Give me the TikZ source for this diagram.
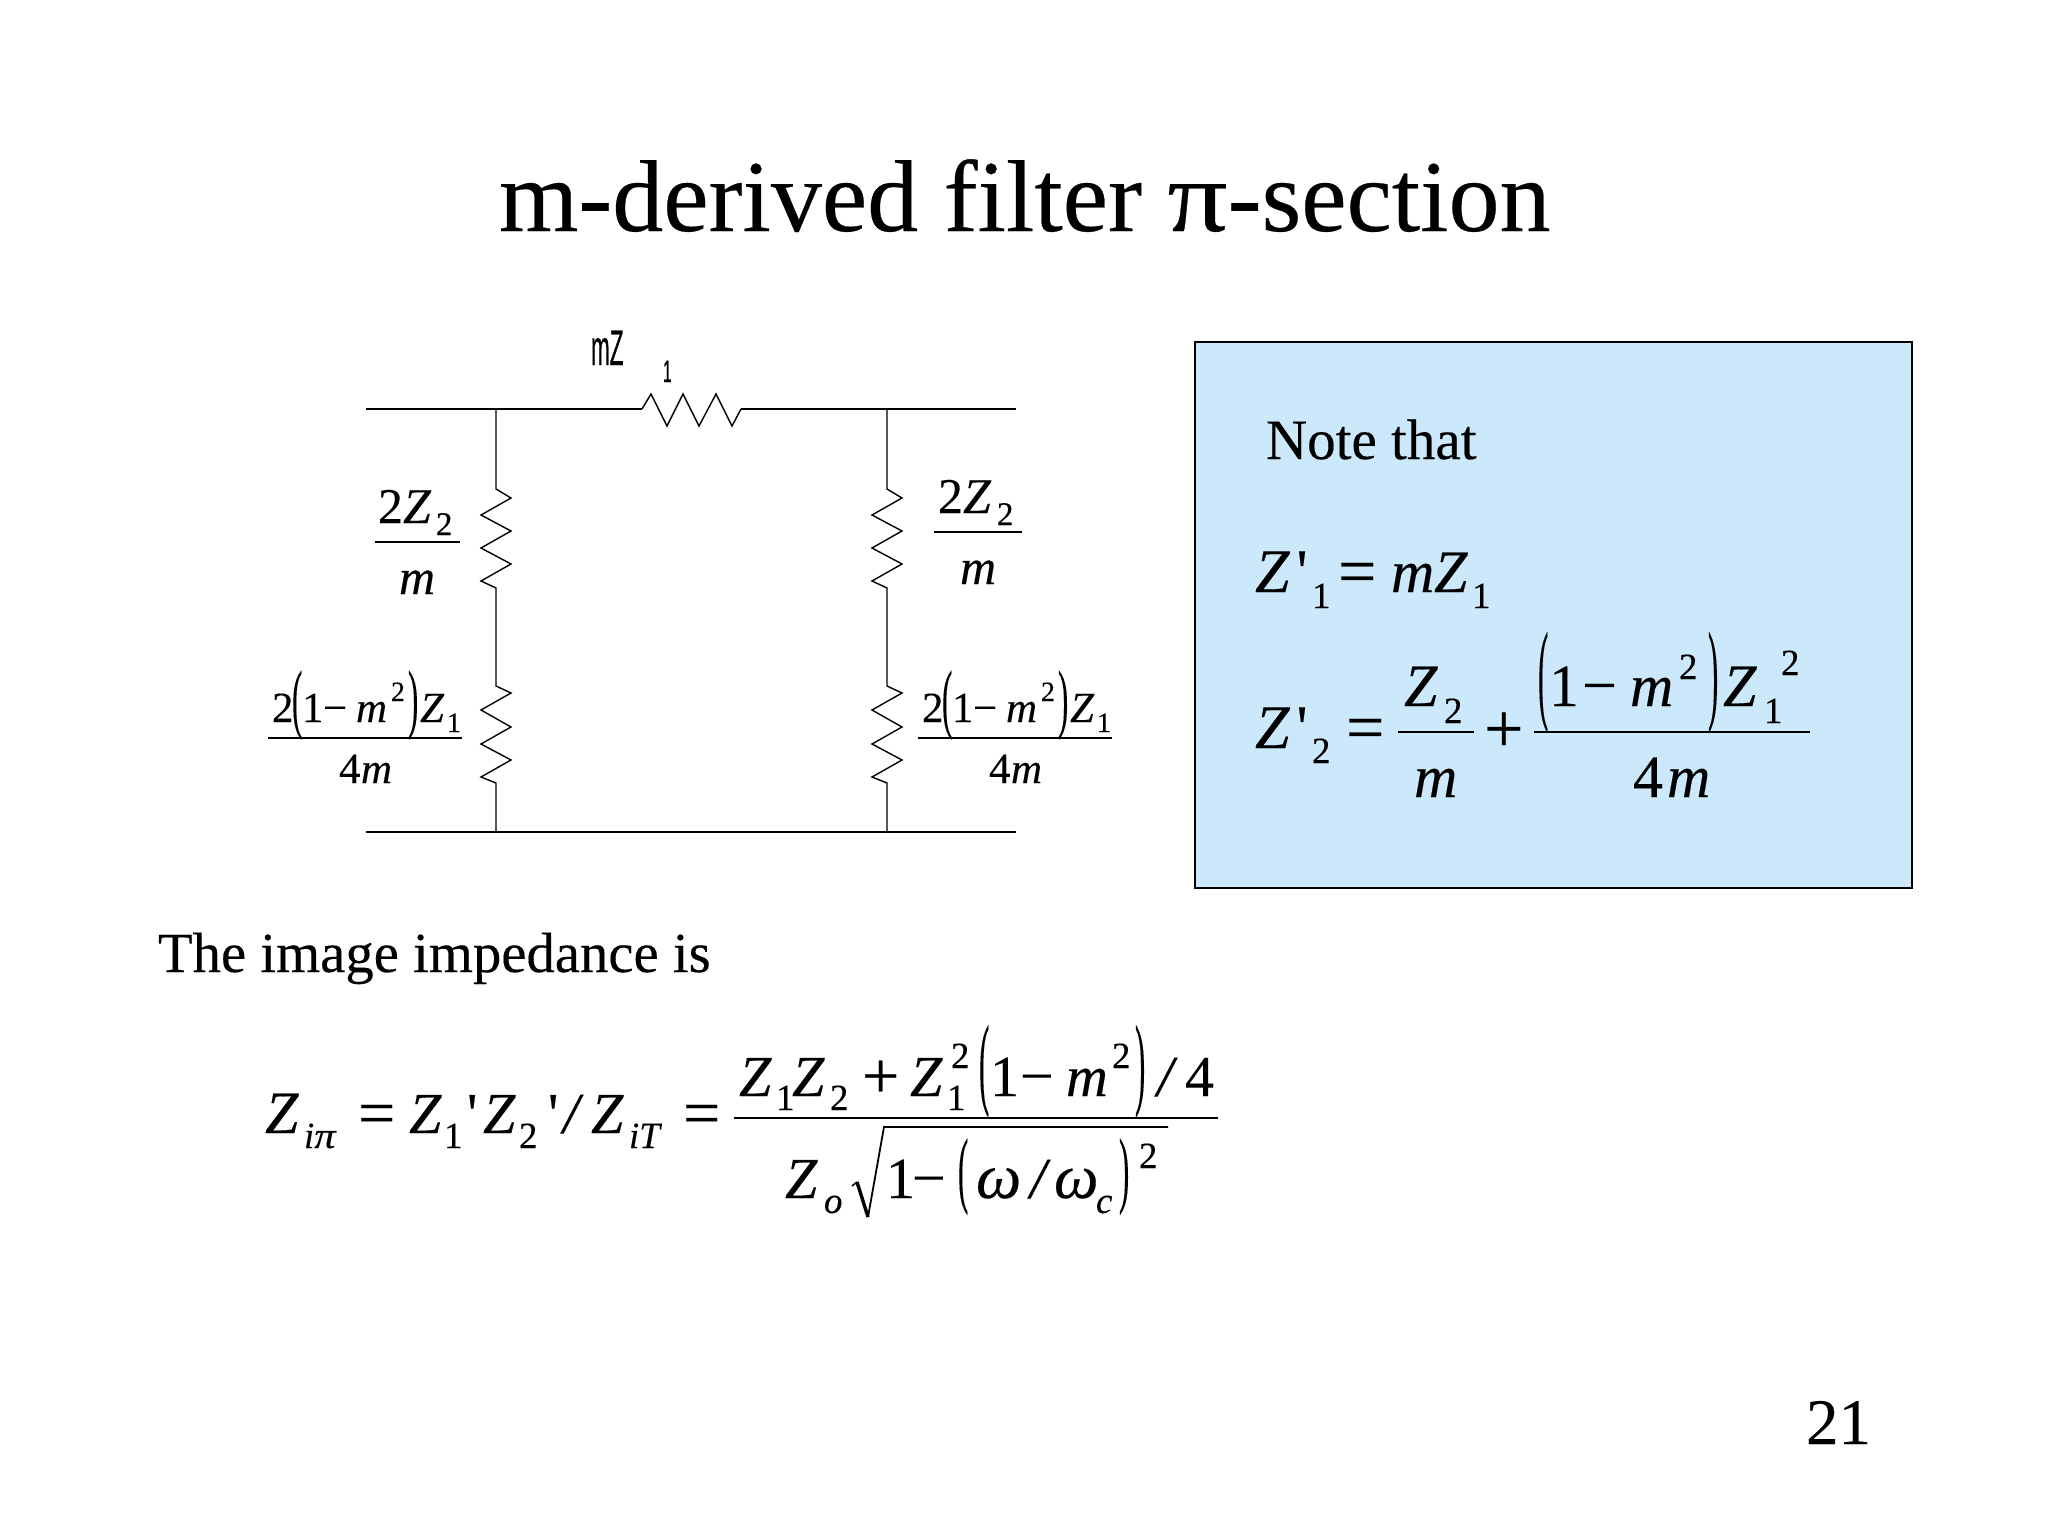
\documentclass[tikz,border=0pt]{standalone}
\usepackage{fontspec}
\usepackage{graphicx}
\setmainfont{Liberation Serif}[RawFeature={embolden=0.25}]
\newfontfamily\rawserif{Liberation Serif}[RawFeature={embolden=0.25}]
\newfontfamily\armfont{Liberation Sans}[RawFeature={embolden=0.5}]
\definecolor{ink}{HTML}{000000}
\definecolor{notefill}{HTML}{CCE9FC}
\newcounter{frg}
\tikzset{
  txt/.style={anchor=base west,inner sep=0pt,outer sep=0pt,text=ink},
  wire/.style={draw=ink,line width=1.4pt,line join=miter},
  rail/.style={draw=ink,line width=1.9pt},
  fracbar/.style={draw=ink,line width=2pt},
  notebox/.style={draw=ink,line width=2.2pt,fill=notefill}
}
\newcommand{\T}[4]{\stepcounter{frg}\node[txt] (f\arabic{frg}) at (#1,#2) {\fontsize{#3}{#3}\selectfont #4};}
\newcommand{\I}[4]{\T{#1}{#2}{#3}{\itshape #4}}
\newcommand{\Apos}{{\rawserif\upshape\symbol{39}}}
% stretched bracket: x, top y, bottom y, glyph
\newcommand{\Pn}[4]{%
  \pgfmathsetmacro{\pk}{(#3-#2)/(50*0.853)}%
  \pgfmathsetmacro{\pb}{#3-\pk*50*0.177}%
  \stepcounter{frg}\node[txt] (f\arabic{frg}) at (#1,\pb) {\fontsize{50}{50}\selectfont\scalebox{0.62}[\pk]{#4}};}
% the two-storey label, shifted in x by #1
\newcommand{\LowLabel}[1]{%
  \T{272+#1}{722}{43}{2}
  \Pn{292+#1}{672}{737}{(}
  \T{302+#1}{722}{43}{1}
  \T{323+#1}{722}{43}{−}
  \I{356+#1}{722}{43}{m}
  \T{391+#1}{701}{28}{2}
  \Pn{408+#1}{672}{737}{)}
  \I{420+#1}{722}{43}{Z}
  \T{447+#1}{732}{28}{1}
  \T{339+#1}{783}{43}{4}
  \I{361+#1}{783}{43}{m}
}
\begin{document}
\begin{tikzpicture}[x=1pt,y=-1pt]
\useasboundingbox (0,0) rectangle (2048,1536);

% title and free text
\T{499}{231}{102}{m-derived filter \scalebox{1.17}[1]{π}-section}
\T{158}{972}{56.7}{The image impedance is}
\T{1806}{1444}{65}{21}

% circuit terminals and junctions
\coordinate (tl) at (366,409);
\coordinate (tr) at (1016,409);
\coordinate (bl) at (366,832);
\coordinate (br) at (1016,832);
\coordinate (jtl) at (496,409);
\coordinate (jtr) at (887,409);
\coordinate (jbl) at (496,832);
\coordinate (jbr) at (887,832);
\coordinate (sa) at (642,409);
\coordinate (sb) at (741,409);

\draw[rail] (tl) -- (sa);
\draw[rail] (sb) -- (tr);
\draw[rail,line width=2.8pt] (bl) -- (br);
\draw[wire] (sa) -- (651,394) -- (667,426) -- (683,394) -- (699,426) -- (716,394) -- (732,426) -- (sb);

\foreach \jt/\jb/\cx in {jtl/jbl/496,jtr/jbr/887}{
  \draw[wire] (\jt) -- (\cx,489) -- (\cx+15,498) -- (\cx-15,515) -- (\cx+15,531) -- (\cx-15,548) -- (\cx+15,564) -- (\cx-15,581) -- (\cx,588)
     -- (\cx,686) -- (\cx+15,693) -- (\cx-15,710) -- (\cx+15,727) -- (\cx-15,744) -- (\cx+15,760) -- (\cx-15,777) -- (\cx,783) -- (\jb);
}

% series element label
\node[txt] (mz) at (591,365) {\fontsize{50}{50}\armfont\selectfont\scalebox{0.45}[1]{mZ}};
\node[txt] (mzsub) at (663,382) {\fontsize{31}{31}\armfont\selectfont\scalebox{0.5}[1]{1}};

% shunt labels upper
\T{378}{523}{50}{2}
\I{403}{523}{50}{Z}
\T{436}{535}{33}{2}
\coordinate (ula) at (375,542); \coordinate (ulb) at (460,542);
\draw[fracbar] (ula) -- (ulb);
\I{399}{594}{50}{m}
\T{938}{513}{50}{2}
\I{963}{513}{50}{Z}
\T{997}{525}{33}{2}
\coordinate (ura) at (934,532); \coordinate (urb) at (1022,532);
\draw[fracbar] (ura) -- (urb);
\I{960}{584}{50}{m}

% shunt labels lower
\LowLabel{0}
\coordinate (lla) at (268,738); \coordinate (llb) at (462,738);
\draw[fracbar] (lla) -- (llb);
\LowLabel{650}
\coordinate (lra) at (918,738); \coordinate (lrb) at (1112,738);
\draw[fracbar] (lra) -- (lrb);

% note box
\node[notebox,anchor=north west,minimum width=717pt,minimum height=546pt,inner sep=0pt] (note) at (1194,341) {};
\T{1266}{459}{57}{Note that}

\I{1255}{592}{62}{Z\kern 7pt\Apos}
\T{1312}{608}{37}{1}
\T{1338}{594}{68}{=}
\I{1391}{592}{60}{m}
\I{1434}{592}{60}{Z}
\T{1472}{608}{37}{1}

\I{1255}{748}{62}{Z\kern 7pt\Apos}
\T{1312}{763}{37}{2}
\T{1346}{750}{68}{=}
\I{1404}{706}{60}{Z}
\T{1444}{723}{37}{2}
\coordinate (na) at (1398,732); \coordinate (nb) at (1474,732);
\draw[fracbar] (na) -- (nb);
\I{1414}{797}{60}{m}
\T{1484}{752}{70}{+}
\coordinate (nc) at (1534,732); \coordinate (nd) at (1810,732);
\draw[fracbar] (nc) -- (nd);
\Pn{1538}{634}{729}{(}
\T{1549}{706}{60}{1}
\T{1582}{706}{62}{−}
\I{1630}{706}{60}{m}
\T{1679}{679}{37}{2}
\Pn{1708}{634}{729}{)}
\I{1723}{706}{60}{Z}
\T{1764}{723}{37}{1}
\T{1781}{675}{37}{2}
\T{1633}{797}{60}{4}
\I{1667}{797}{60}{m}

% image impedance formula
\I{265}{1133}{60}{Z}
\I{304}{1148}{37}{i\scalebox{1.15}[1]{π}}
\T{358}{1135}{66}{=}
\I{409}{1133}{58}{Z}
\T{444}{1148}{37}{1}
\T{467}{1133}{58}{\Apos}
\I{483}{1133}{58}{Z}
\T{519}{1148}{37}{2}
\T{548}{1133}{58}{\Apos}
\I{563}{1133}{58}{/}
\I{591}{1133}{58}{Z}
\I{629}{1148}{37}{iT}
\T{683}{1135}{66}{=}
\coordinate (ia) at (734,1118); \coordinate (ib) at (1218,1118);
\draw[fracbar,line width=2.4pt] (ia) -- (ib);

\I{739}{1096}{58}{Z}
\T{776}{1110}{37}{1}
\I{792}{1096}{58}{Z}
\T{830}{1110}{37}{2}
\T{862}{1098}{66}{+}
\I{910}{1096}{58}{Z}
\T{947}{1110}{37}{1}
\T{951}{1068}{37}{2}
\Pn{979}{1027}{1114}{(}
\T{990}{1096}{58}{1}
\T{1020}{1096}{60}{−}
\I{1066}{1096}{58}{m}
\T{1112}{1068}{37}{2}
\Pn{1135}{1027}{1114}{)}
\I{1157}{1096}{58}{/}
\T{1185}{1096}{58}{4}

\I{785}{1198}{58}{Z}
\I{824}{1213}{37}{o}
\coordinate (ra) at (852,1186); \coordinate (rb) at (857,1182); \coordinate (rc) at (868,1217);
\coordinate (rd) at (884,1127); \coordinate (re) at (1168,1127);
\draw[wire,line width=1.6pt] (ra) -- (rb);
\draw[wire,line width=3.4pt] (rb) -- (rc);
\draw[wire,line width=1.8pt] (rc) -- (rd) -- (re);
\T{886}{1198}{58}{1}
\T{912}{1198}{60}{−}
\Pn{958}{1140}{1212}{(}
\I{976}{1198}{64}{ω}
\I{1030}{1198}{58}{/}
\I{1054}{1198}{63}{ω}
\I{1096}{1213}{37}{c}
\Pn{1119}{1140}{1212}{)}
\T{1139}{1168}{37}{2}
\end{tikzpicture}
\end{document}
